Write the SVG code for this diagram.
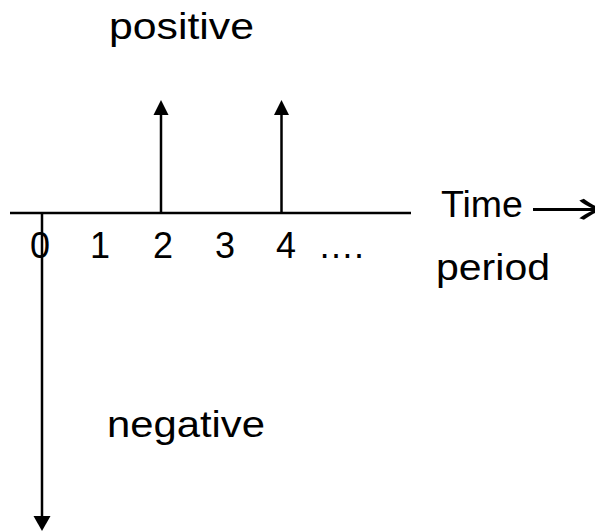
<svg xmlns="http://www.w3.org/2000/svg" width="595" height="531" viewBox="0 0 595 531">
<style>
text{font-family:"Liberation Sans",Arial,sans-serif;font-size:36px;fill:#000}
.ln{stroke:#000;stroke-width:2.5;fill:none}
.hd{fill:#000;stroke:none}
</style>
<rect width="595" height="531" fill="#fff"/>
<g id="connectors">
<line class="ln" x1="10" y1="213" x2="411" y2="213"/>
<line class="ln" x1="42" y1="213" x2="42" y2="518"/>
<polygon class="hd" points="33.5,516 50.5,516 42,531"/>
<line class="ln" x1="161" y1="213" x2="161" y2="113"/>
<polygon class="hd" points="153.5,115 168.5,115 161,100"/>
<line class="ln" x1="281.5" y1="213" x2="281.5" y2="113"/>
<polygon class="hd" points="274,115 289,115 281.5,100"/>
</g>
<g id="label-positive"><text x="109" y="39" textLength="145" lengthAdjust="spacingAndGlyphs">positive</text></g>
<g id="label-negative"><text x="107" y="437" textLength="158" lengthAdjust="spacingAndGlyphs">negative</text></g>
<g id="label-time"><text x="441" y="217" textLength="82" lengthAdjust="spacingAndGlyphs">Time</text><text x="530" y="226" style="font-family:'Noto Sans CJK SC',sans-serif;font-size:44px" textLength="76" lengthAdjust="spacingAndGlyphs">→</text></g>
<g id="label-period"><text x="436" y="280" textLength="114" lengthAdjust="spacingAndGlyphs">period</text></g>
<g id="ticks" text-anchor="middle">
<text x="40" y="258">0</text>
<text x="100" y="258">1</text>
<text x="163" y="258">2</text>
<text x="225" y="258">3</text>
<text x="286" y="258">4</text>
</g>
<g id="ellipsis"><text x="318" y="258">….</text></g>
</svg>
